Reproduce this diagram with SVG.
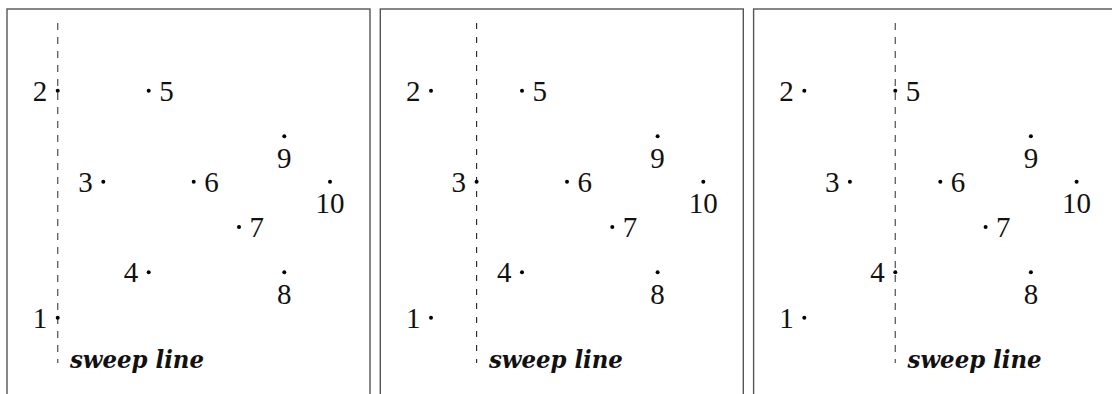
<svg xmlns="http://www.w3.org/2000/svg" width="1112" height="394" viewBox="0 0 1112 394">
<defs>
<style>
.frame{fill:none;stroke:#555;stroke-width:1.4}
.sweep{stroke:#666;stroke-width:1.4;stroke-dasharray:7 7;fill:none}
.sweep2{stroke:#222;stroke-width:1.1;stroke-dasharray:6 8;fill:none}
.dot{fill:#000}
.lbl{font-family:'Liberation Serif','Times New Roman',serif;font-size:29px;fill:#111}
.l{text-anchor:end}
.r{text-anchor:start}
.b{text-anchor:middle}
.sl{font-family:'DejaVu Serif',serif;font-size:25px;font-weight:bold;font-style:italic;fill:#111}
</style>
</defs>
<rect x="0" y="0" width="1112" height="394" fill="#fff"/>
<!-- Panel 1 -->
<g id="panel1">
<rect class="frame" x="7" y="9" width="363" height="400"/>
<g id="p1-connectors"><line class="sweep" x1="57.7" y1="23" x2="57.7" y2="363"/></g>
<g id="p1-n1"><circle class="dot" cx="57.7" cy="317.7" r="2"/><text class="lbl l" x="47.2" y="327.7">1</text></g>
<g id="p1-n2"><circle class="dot" cx="57.7" cy="90.7" r="2"/><text class="lbl l" x="47.2" y="100.7">2</text></g>
<g id="p1-n3"><circle class="dot" cx="103.3" cy="181.7" r="2"/><text class="lbl l" x="92.8" y="191.7">3</text></g>
<g id="p1-n4"><circle class="dot" cx="148.7" cy="272.3" r="2"/><text class="lbl l" x="138.2" y="282.3">4</text></g>
<g id="p1-n5"><circle class="dot" cx="148.7" cy="90.7" r="2"/><text class="lbl r" x="159.2" y="100.7">5</text></g>
<g id="p1-n6"><circle class="dot" cx="193.7" cy="181.7" r="2"/><text class="lbl r" x="204.2" y="191.7">6</text></g>
<g id="p1-n7"><circle class="dot" cx="239" cy="227" r="2"/><text class="lbl r" x="249.5" y="237">7</text></g>
<g id="p1-n8"><circle class="dot" cx="284.3" cy="272.3" r="2"/><text class="lbl b" x="284.3" y="303.8">8</text></g>
<g id="p1-n9"><circle class="dot" cx="284.3" cy="136.3" r="2"/><text class="lbl b" x="284.3" y="167.8">9</text></g>
<g id="p1-n10"><circle class="dot" cx="330" cy="181.7" r="2"/><text class="lbl b" x="330" y="213.2">10</text></g>
<text class="sl" x="70" y="368" textLength="134" lengthAdjust="spacingAndGlyphs">sweep line</text>
</g>

<!-- Panel 2 -->
<g id="panel2" transform="translate(373.3,0)">
<rect class="frame" x="7" y="9" width="363" height="400"/>
<g id="p2-connectors"><line class="sweep2" x1="103.3" y1="23" x2="103.3" y2="363"/></g>
<g id="p2-n1"><circle class="dot" cx="57.7" cy="317.7" r="2"/><text class="lbl l" x="47.2" y="327.7">1</text></g>
<g id="p2-n2"><circle class="dot" cx="57.7" cy="90.7" r="2"/><text class="lbl l" x="47.2" y="100.7">2</text></g>
<g id="p2-n3"><circle class="dot" cx="103.3" cy="181.7" r="2"/><text class="lbl l" x="92.8" y="191.7">3</text></g>
<g id="p2-n4"><circle class="dot" cx="148.7" cy="272.3" r="2"/><text class="lbl l" x="138.2" y="282.3">4</text></g>
<g id="p2-n5"><circle class="dot" cx="148.7" cy="90.7" r="2"/><text class="lbl r" x="159.2" y="100.7">5</text></g>
<g id="p2-n6"><circle class="dot" cx="193.7" cy="181.7" r="2"/><text class="lbl r" x="204.2" y="191.7">6</text></g>
<g id="p2-n7"><circle class="dot" cx="239" cy="227" r="2"/><text class="lbl r" x="249.5" y="237">7</text></g>
<g id="p2-n8"><circle class="dot" cx="284.3" cy="272.3" r="2"/><text class="lbl b" x="284.3" y="303.8">8</text></g>
<g id="p2-n9"><circle class="dot" cx="284.3" cy="136.3" r="2"/><text class="lbl b" x="284.3" y="167.8">9</text></g>
<g id="p2-n10"><circle class="dot" cx="330" cy="181.7" r="2"/><text class="lbl b" x="330" y="213.2">10</text></g>
<text class="sl" x="115.6" y="368" textLength="134" lengthAdjust="spacingAndGlyphs">sweep line</text>
</g>

<!-- Panel 3 -->
<g id="panel3" transform="translate(746.6,0)">
<rect class="frame" x="7" y="9" width="363" height="400"/>
<g id="p3-connectors"><line class="sweep" x1="148.7" y1="23" x2="148.7" y2="363"/></g>
<g id="p3-n1"><circle class="dot" cx="57.7" cy="317.7" r="2"/><text class="lbl l" x="47.2" y="327.7">1</text></g>
<g id="p3-n2"><circle class="dot" cx="57.7" cy="90.7" r="2"/><text class="lbl l" x="47.2" y="100.7">2</text></g>
<g id="p3-n3"><circle class="dot" cx="103.3" cy="181.7" r="2"/><text class="lbl l" x="92.8" y="191.7">3</text></g>
<g id="p3-n4"><circle class="dot" cx="148.7" cy="272.3" r="2"/><text class="lbl l" x="138.2" y="282.3">4</text></g>
<g id="p3-n5"><circle class="dot" cx="148.7" cy="90.7" r="2"/><text class="lbl r" x="159.2" y="100.7">5</text></g>
<g id="p3-n6"><circle class="dot" cx="193.7" cy="181.7" r="2"/><text class="lbl r" x="204.2" y="191.7">6</text></g>
<g id="p3-n7"><circle class="dot" cx="239" cy="227" r="2"/><text class="lbl r" x="249.5" y="237">7</text></g>
<g id="p3-n8"><circle class="dot" cx="284.3" cy="272.3" r="2"/><text class="lbl b" x="284.3" y="303.8">8</text></g>
<g id="p3-n9"><circle class="dot" cx="284.3" cy="136.3" r="2"/><text class="lbl b" x="284.3" y="167.8">9</text></g>
<g id="p3-n10"><circle class="dot" cx="330" cy="181.7" r="2"/><text class="lbl b" x="330" y="213.2">10</text></g>
<text class="sl" x="161" y="368" textLength="134" lengthAdjust="spacingAndGlyphs">sweep line</text>
</g>
</svg>
